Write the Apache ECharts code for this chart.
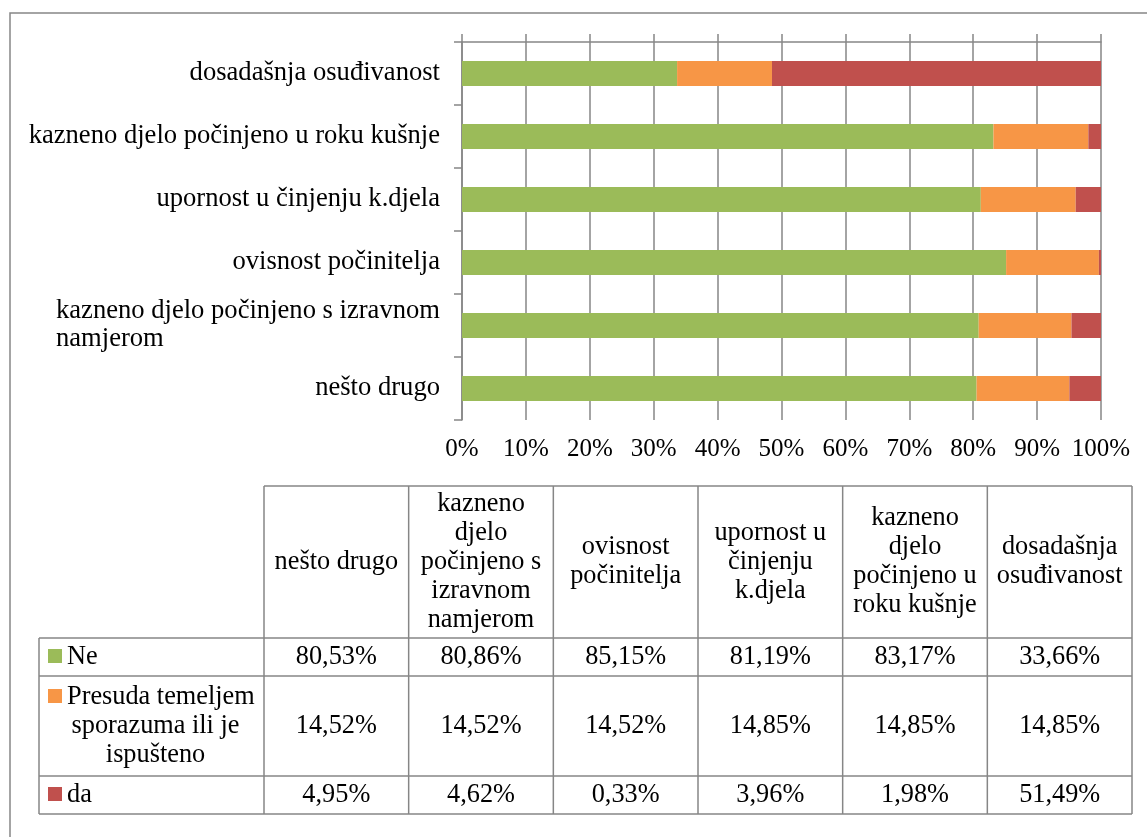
<!DOCTYPE html>
<html>
<head>
<meta charset="utf-8">
<title>Okolnosti i odluka</title>
<script src="https://cdn.jsdelivr.net/npm/echarts@6/dist/echarts.min.js"></script>
<style>
  html, body { margin: 0; padding: 0; background: #fff; }
  #chart { width: 1147px; height: 837px; }
</style>
</head>
<body>
<div id="chart"></div>
<script>
// Categories, bottom to top on the bar chart; left to right in the table
const categories = [
  'nešto drugo',
  'kazneno djelo počinjeno s izravnom namjerom',
  'ovisnost počinitelja',
  'upornost u činjenju k.djela',
  'kazneno djelo počinjeno u roku kušnje',
  'dosadašnja osuđivanost'
];

// Series names and shares (%)
const seriesNames = ['Ne', 'Presuda temeljem sporazuma ili je ispušteno', 'da'];
const neValues      = [80.53, 80.86, 85.15, 81.19, 83.17, 33.66];
const presudaValues = [14.52, 14.52, 14.52, 14.85, 14.85, 14.85];
const daValues      = [4.95, 4.62, 0.33, 3.96, 1.98, 51.49];

// Value axis range and step (%)
const axisMin = 0;
const axisMax = 100;
const axisStep = 10;

const seriesValues = [neValues, presudaValues, daValues];
const colors = ['#9BBB59', '#F79646', '#C0504D'];
const gridColor = '#868686';
const serif = 'Liberation Serif';
const catSize = 26.6;
const tickSize = 25;
const tableSize = 26.3;
const tableLine = 29;

// text measuring for word wrapping
const measureCtx = document.createElement('canvas').getContext('2d');
function textWidth(s, size) {
  measureCtx.font = size + 'px "' + serif + '"';
  return measureCtx.measureText(s).width;
}
function wrapText(s, maxW, size) {
  const words = s.split(' ');
  const lines = [];
  let cur = '';
  words.forEach(w => {
    const test = cur ? cur + ' ' + w : w;
    if (!cur || textWidth(test, size) <= maxW) cur = test;
    else { lines.push(cur); cur = w; }
  });
  if (cur) lines.push(cur);
  return lines;
}
const fmtPct = v => v.toFixed(2).replace('.', ',') + '%';

// ---------- data table below the chart ----------
const tbl = { left: 39, headLeft: 264, right: 1132, top: 486, headH: 152, rowH: [38, 100, 38] };
const colW = (tbl.right - tbl.headLeft) / categories.length;
const rowTops = [];
let yy = tbl.top + tbl.headH;
tbl.rowH.forEach(h => { rowTops.push(yy); yy += h; });
const tblBottom = yy;

const lineStyle = { stroke: gridColor, lineWidth: 1.5 };
const graphics = [];

// frame around the whole figure
graphics.push({
  type: 'rect', silent: true, z: 0,
  shape: { x: 10, y: 13, width: 1160, height: 860 },
  style: { fill: 'none', stroke: gridColor, lineWidth: 1.5 }
});

function hLine(x1, x2, y) {
  graphics.push({ type: 'line', silent: true, shape: { x1: x1, y1: y, x2: x2, y2: y }, style: lineStyle });
}
function vLine(x, y1, y2) {
  graphics.push({ type: 'line', silent: true, shape: { x1: x, y1: y1, x2: x, y2: y2 }, style: lineStyle });
}

hLine(tbl.headLeft, tbl.right, tbl.top);
rowTops.forEach(t => hLine(tbl.left, tbl.right, t));
hLine(tbl.left, tbl.right, tblBottom);
vLine(tbl.left, rowTops[0], tblBottom);
for (let i = 0; i <= categories.length; i++) {
  vLine(tbl.headLeft + i * colW, tbl.top, tblBottom);
}

function textEl(str, x, y, align) {
  return {
    type: 'text', silent: true, x: x, y: y,
    style: {
      text: str, fill: '#000', fontSize: tableSize, fontFamily: serif,
      align: align || 'center', verticalAlign: 'middle', lineHeight: tableLine
    }
  };
}

// column headers
categories.forEach((c, i) => {
  const lines = wrapText(c, 134, tableSize);
  graphics.push(textEl(lines.join('\n'), tbl.headLeft + (i + 0.5) * colW, tbl.top + tbl.headH / 2));
});

// value cells
seriesValues.forEach((vals, r) => {
  const cy = rowTops[r] + tbl.rowH[r] / 2;
  vals.forEach((v, i) => {
    graphics.push(textEl(fmtPct(v), tbl.headLeft + (i + 0.5) * colW, cy));
  });
});

// legend keys and series names
const keyX = 48, keySize = 14;
const legendCenter = (tbl.left + tbl.headLeft) / 2 + 4;
seriesNames.forEach((name, r) => {
  const lines = wrapText(name, 192, tableSize);
  const cy = rowTops[r] + tbl.rowH[r] / 2;
  lines.forEach((ln, k) => {
    const ly = cy + (k - (lines.length - 1) / 2) * tableLine;
    if (k === 0) {
      graphics.push({
        type: 'rect', silent: true,
        shape: { x: keyX, y: ly - keySize / 2 - 1, width: keySize, height: keySize },
        style: { fill: colors[r] }
      });
      graphics.push(textEl(ln, keyX + keySize + 5, ly, 'left'));
    } else {
      graphics.push(textEl(ln, legendCenter, ly, 'center'));
    }
  });
});

// ---------- bar chart ----------
const chart = echarts.init(document.getElementById('chart'), null, { renderer: 'canvas' });

const option = {
  backgroundColor: '#fff',
  animation: false,
  grid: { left: 462, right: 46, top: 42, bottom: 417, containLabel: false },
  xAxis: [
    {
      type: 'value', position: 'top', min: axisMin, max: axisMax, interval: axisStep,
      axisLine: { show: true, lineStyle: { color: gridColor, width: 1.5 } },
      axisTick: { show: true, length: 8, lineStyle: { color: gridColor, width: 1.5 } },
      axisLabel: { show: false },
      splitLine: { show: true, lineStyle: { color: gridColor, width: 1.5 } }
    },
    {
      type: 'value', position: 'bottom', min: axisMin, max: axisMax, interval: axisStep,
      axisLine: { show: false },
      axisTick: { show: false },
      splitLine: { show: false },
      axisLabel: {
        margin: 17, color: '#000', fontSize: tickSize, fontFamily: serif,
        formatter: '{value}%'
      }
    }
  ],
  yAxis: {
    type: 'category',
    data: categories,
    axisLine: { show: true, lineStyle: { color: gridColor, width: 1.5 } },
    axisTick: { show: true, length: 8, lineStyle: { color: gridColor, width: 1.5 } },
    splitLine: { show: false },
    axisLabel: {
      margin: 22, color: '#000', fontSize: catSize, fontFamily: serif,
      formatter: v => {
        const lines = wrapText(v, 415, catSize);
        if (lines.length === 1) return v;
        return lines.map(l => '{w|' + l + '}').join('\n');
      },
      rich: {
        w: { align: 'left', fontSize: catSize, fontFamily: serif, color: '#000', lineHeight: 28 }
      }
    }
  },
  series: seriesNames.map((name, s) => ({
    name: name,
    type: 'bar',
    stack: 'ukupno',
    xAxisIndex: 0,
    barWidth: 25,
    itemStyle: { color: colors[s] },
    data: seriesValues[s]
  })),
  graphic: { elements: graphics }
};

chart.setOption(option);
</script>
</body>
</html>
